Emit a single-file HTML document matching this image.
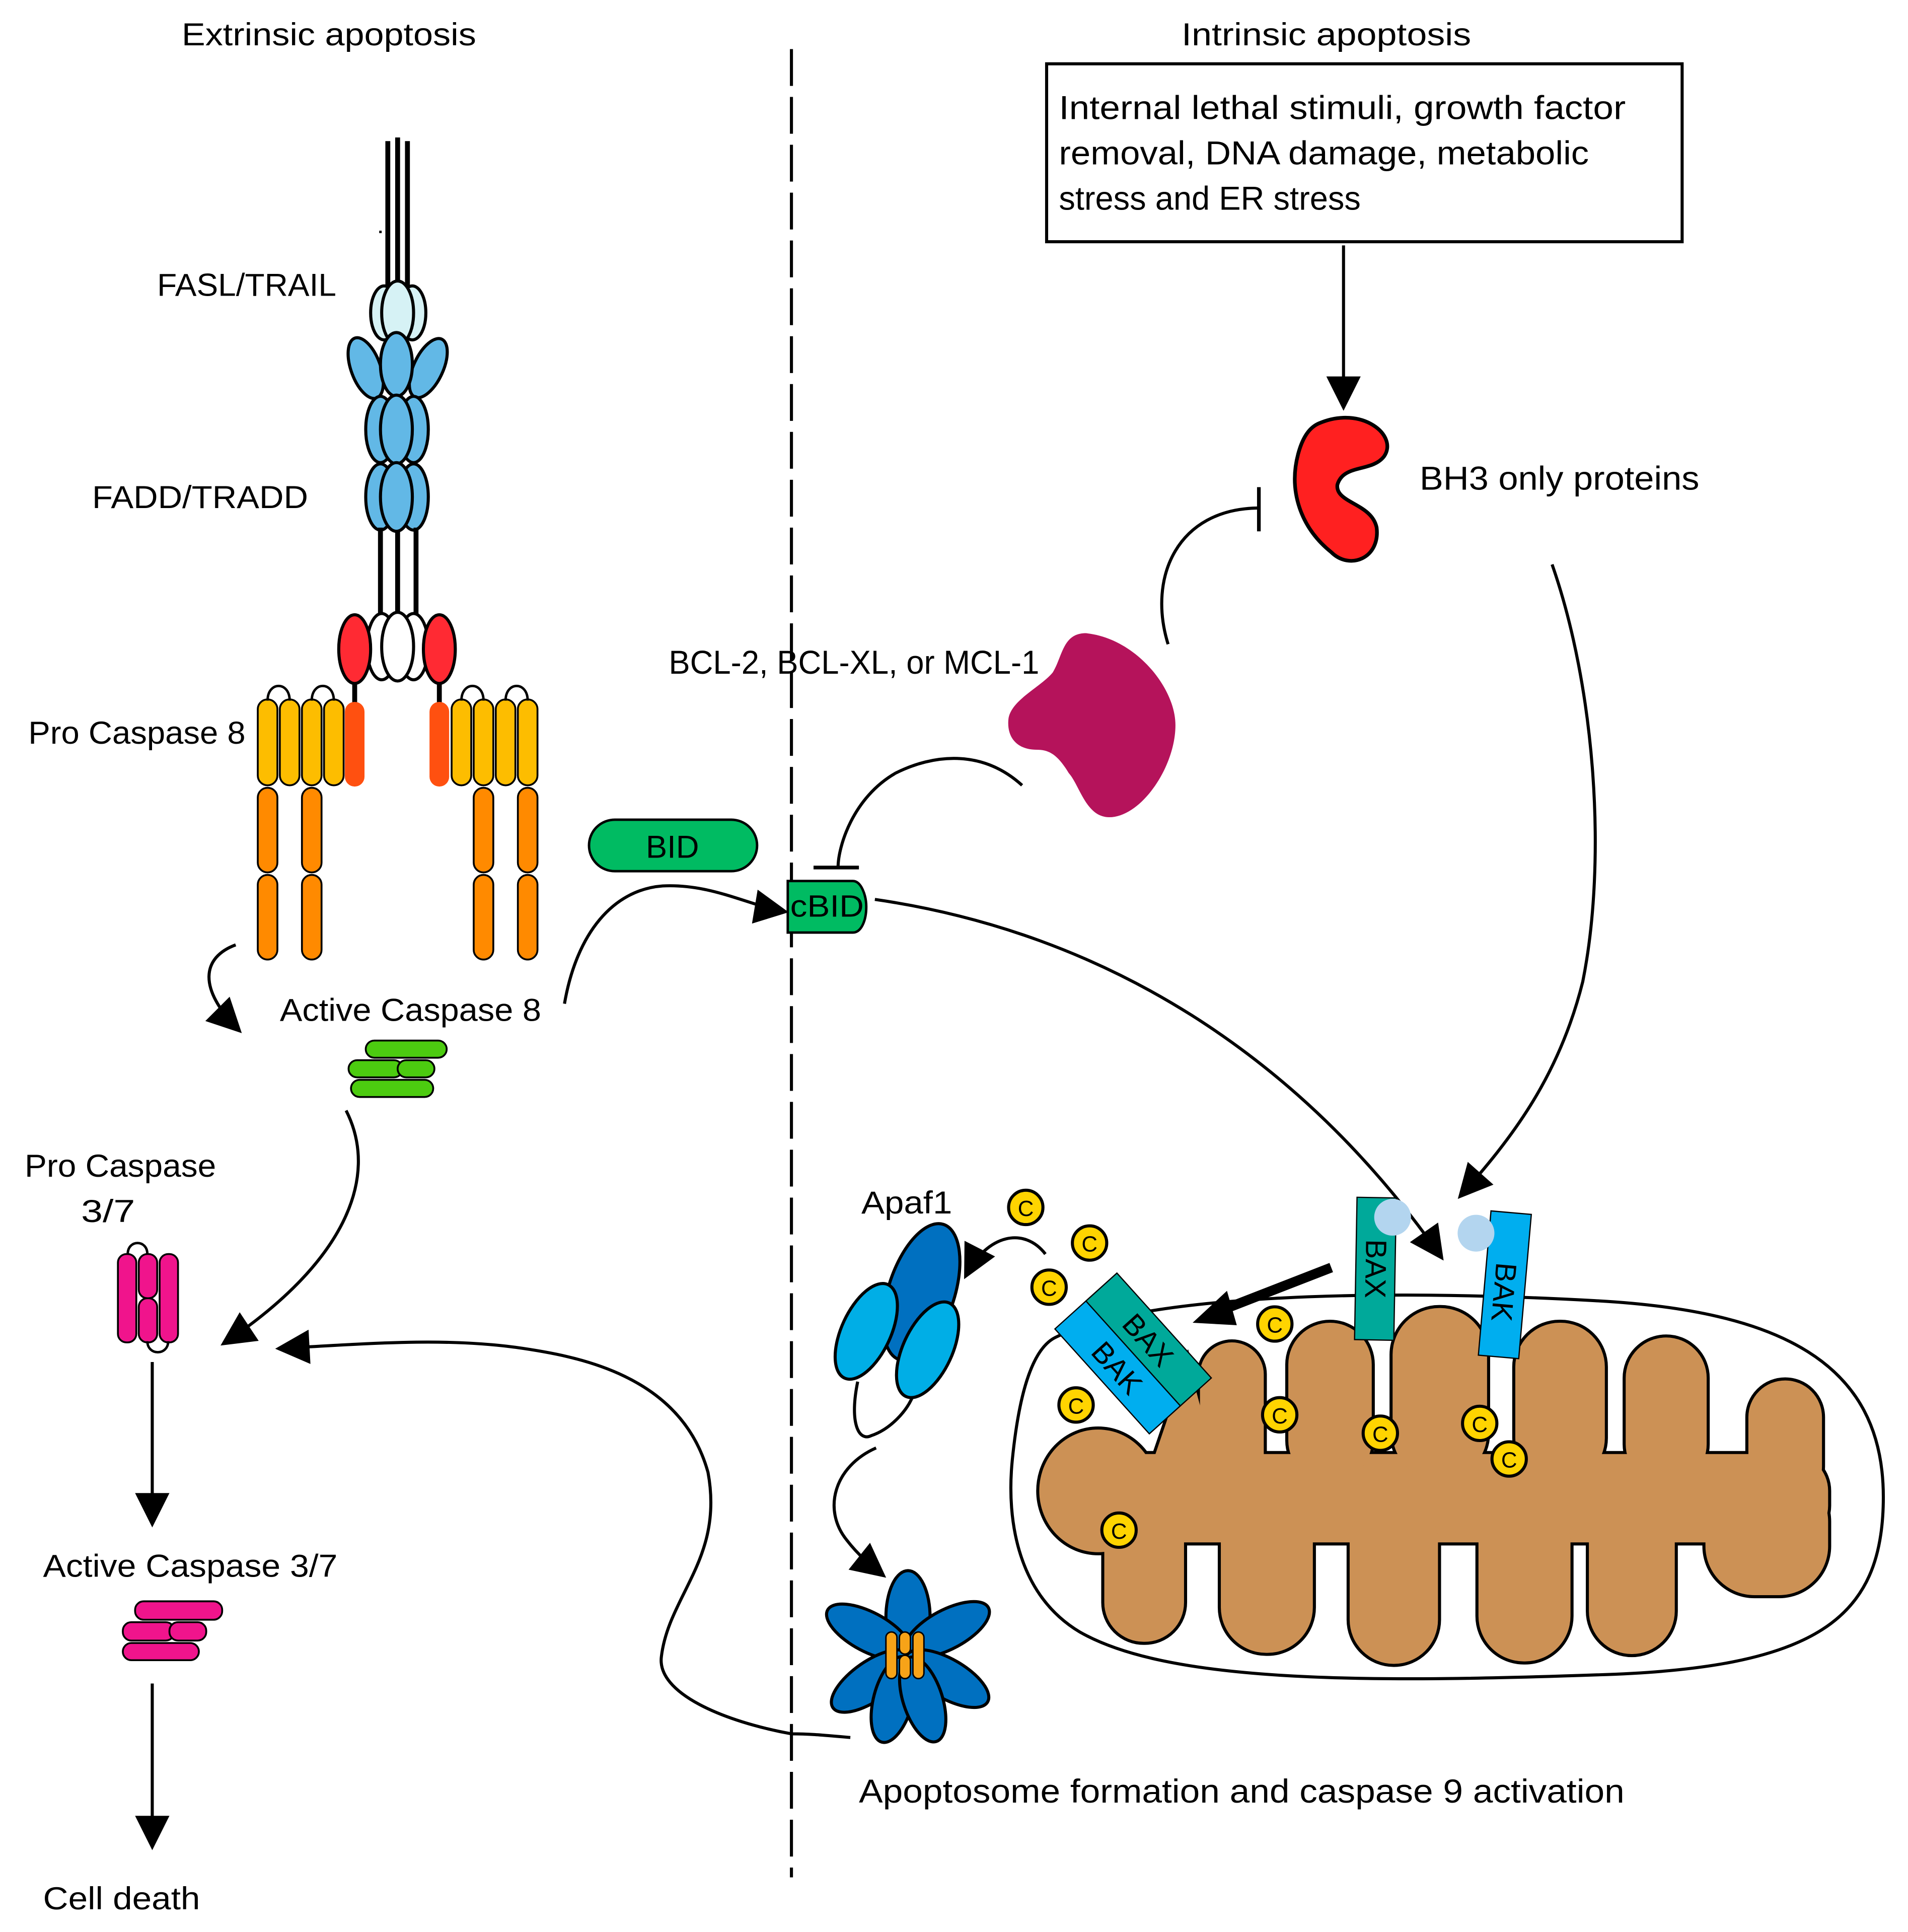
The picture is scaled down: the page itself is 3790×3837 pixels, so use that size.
<!DOCTYPE html>
<html><head><meta charset="utf-8"><style>html,body{margin:0;padding:0;background:#fff}svg{display:block}text{font-family:"Liberation Sans",sans-serif;fill:#000}</style></head><body>
<svg width="3790" height="3837" viewBox="0 0 1555 1574.5" xmlns="http://www.w3.org/2000/svg">
<defs>
<marker id="ah" viewBox="0 0 10 10" refX="9" refY="5" markerWidth="30" markerHeight="28" markerUnits="userSpaceOnUse" orient="auto"><path d="M0,0 L10,5 L0,10 z" fill="#000"/></marker>
</defs>
<rect width="1555" height="1575" fill="#fff"/>
<line x1="645" y1="40" x2="645" y2="1530" stroke="#000" stroke-width="2.5" stroke-dasharray="30,9"/>
<text x="148" y="37" font-size="26" textLength="240" lengthAdjust="spacingAndGlyphs">Extrinsic apoptosis</text>
<text x="963" y="37" font-size="26" textLength="236" lengthAdjust="spacingAndGlyphs">Intrinsic apoptosis</text>
<rect x="853" y="52" width="518" height="145" fill="#fff" stroke="#000" stroke-width="2.5"/>
<text x="863" y="97" font-size="27" textLength="462" lengthAdjust="spacingAndGlyphs">Internal lethal stimuli, growth factor</text>
<text x="863" y="134" font-size="27" textLength="432" lengthAdjust="spacingAndGlyphs">removal, DNA damage, metabolic</text>
<text x="863" y="171" font-size="27" textLength="246" lengthAdjust="spacingAndGlyphs">stress and ER stress</text>
<line x1="1095" y1="200" x2="1095" y2="332" stroke="#000" stroke-width="2.5" marker-end="url(#ah)"/>
<path d="M1075,345 C1110,330 1140,355 1128,372 C1118,385 1095,378 1090,395 C1088,410 1118,410 1122,430 C1125,455 1100,465 1085,450 C1060,430 1050,400 1058,370 C1062,355 1068,348 1075,345 Z" fill="#ff2020" stroke="#000" stroke-width="3"/>
<text x="1157" y="399" font-size="27" textLength="228" lengthAdjust="spacingAndGlyphs">BH3 only proteins</text>
<path d="M952,525 C935,470 960,415 1025,414" fill="none" stroke="#000" stroke-width="2.5"/>
<line x1="1026" y1="397" x2="1026" y2="433" stroke="#000" stroke-width="3"/>
<path d="M885,516 C925,520 958,560 958,591 C958,625 930,666 904,666 C885,666 880,640 871,630 C862,615 855,611 845,611 C828,611 820,600 822,585 C825,570 848,560 858,548 C866,535 866,516 885,516 Z" fill="#b5135b"/>
<text x="545" y="549" font-size="27" textLength="302" lengthAdjust="spacingAndGlyphs">BCL-2, BCL-XL, or MCL-1</text>
<path d="M833,640 C800,610 760,615 730,630 C695,650 683,690 683,707" fill="none" stroke="#000" stroke-width="2.5"/>
<line x1="663" y1="707" x2="700" y2="707" stroke="#000" stroke-width="3"/>
<rect x="480" y="668" width="137" height="42" rx="21" fill="#00bb62" stroke="#000" stroke-width="2"/>
<text x="548" y="699" font-size="26" text-anchor="middle">BID</text>
<path d="M642,718 L695,718 C702,718 706,730 706,739 C706,750 702,760 695,760 L642,760 Z" fill="#00bb62" stroke="#000" stroke-width="2"/>
<text x="674" y="747" font-size="25" text-anchor="middle" textLength="60" lengthAdjust="spacingAndGlyphs">cBID</text>
<path d="M460,818 C470,760 500,725 540,722 C580,720 610,738 640,743" fill="none" stroke="#000" stroke-width="2.5" marker-end="url(#ah)"/>
<path d="M713,733 C900,760 1060,860 1175,1025" fill="none" stroke="#000" stroke-width="2.5" marker-end="url(#ah)"/>
<path d="M1265,460 C1300,560 1310,700 1290,800 C1270,880 1230,930 1190,975" fill="none" stroke="#000" stroke-width="2.5" marker-end="url(#ah)"/>

<g stroke="#000">
<line x1="316" y1="115" x2="316" y2="240" stroke-width="4"/>
<line x1="324" y1="112" x2="324" y2="240" stroke-width="4"/>
<line x1="332" y1="115" x2="332" y2="240" stroke-width="4"/>
<rect x="309" y="188" width="2" height="2" fill="#000" stroke="none"/>
<g stroke-width="2.5" fill="#d6f2f5">
<ellipse cx="313" cy="255" rx="11" ry="22"/><ellipse cx="336" cy="255" rx="11" ry="22"/><ellipse cx="324" cy="255" rx="13" ry="26"/>
</g>
<g stroke-width="2.5" fill="#62b8e6">
<ellipse cx="298" cy="300" rx="12" ry="26" transform="rotate(-20 298 300)"/>
<ellipse cx="349" cy="300" rx="12" ry="26" transform="rotate(25 349 300)"/>
<ellipse cx="323" cy="297" rx="13" ry="26"/>
<ellipse cx="310" cy="350" rx="12" ry="27"/><ellipse cx="337" cy="350" rx="12" ry="27"/><ellipse cx="323" cy="350" rx="13" ry="28"/>
<ellipse cx="310" cy="405" rx="12" ry="27"/><ellipse cx="337" cy="405" rx="12" ry="27"/><ellipse cx="323" cy="405" rx="13" ry="28"/>
</g>
<line x1="310" y1="430" x2="310" y2="505" stroke-width="4"/>
<line x1="324" y1="432" x2="324" y2="505" stroke-width="4"/>
<line x1="339" y1="430" x2="339" y2="505" stroke-width="4"/>
<g stroke-width="2.5" fill="#fff">
<ellipse cx="311" cy="527" rx="12" ry="27"/><ellipse cx="337" cy="527" rx="12" ry="27"/><ellipse cx="324" cy="527" rx="13" ry="28"/>
</g>
<g stroke-width="2.5" fill="#ff2a33">
<ellipse cx="289" cy="529" rx="13" ry="28"/><ellipse cx="358" cy="529" rx="13" ry="28"/>
</g>
<line x1="289" y1="557" x2="289" y2="574" stroke-width="4"/>
<line x1="358" y1="557" x2="358" y2="574" stroke-width="4"/>
</g>
<g stroke="#000" stroke-width="1.5">
<rect x="281" y="572" width="16" height="69" rx="8" fill="#ff5010" stroke="none"/>
<rect x="350" y="572" width="16" height="69" rx="8" fill="#ff5010" stroke="none"/>
<g fill="#fdbd00">
<rect x="210" y="570" width="16" height="70" rx="8"/><rect x="228" y="570" width="16" height="70" rx="8"/><rect x="246" y="570" width="16" height="70" rx="8"/><rect x="264" y="570" width="16" height="70" rx="8"/>
<rect x="368" y="570" width="16" height="70" rx="8"/><rect x="386" y="570" width="16" height="70" rx="8"/><rect x="404" y="570" width="16" height="70" rx="8"/><rect x="422" y="570" width="16" height="70" rx="8"/>
</g>
<g fill="#ff8a00">
<rect x="210" y="642" width="16" height="69" rx="8"/><rect x="210" y="713" width="16" height="69" rx="8"/>
<rect x="246" y="642" width="16" height="69" rx="8"/><rect x="246" y="713" width="16" height="69" rx="8"/>
<rect x="386" y="642" width="16" height="69" rx="8"/><rect x="386" y="713" width="16" height="69" rx="8"/>
<rect x="422" y="642" width="16" height="69" rx="8"/><rect x="422" y="713" width="16" height="69" rx="8"/>
</g>
<g fill="none" stroke-width="2">
<path d="M218,571 C218,555 236,555 236,571"/><path d="M254,571 C254,555 272,555 272,571"/>
<path d="M376,571 C376,555 394,555 394,571"/><path d="M412,571 C412,555 430,555 430,571"/>
</g>
</g>
<text x="128" y="241" font-size="26" textLength="146" lengthAdjust="spacingAndGlyphs">FASL/TRAIL</text>
<text x="75" y="414" font-size="26" textLength="176" lengthAdjust="spacingAndGlyphs">FADD/TRADD</text>
<text x="23" y="606" font-size="26" textLength="177" lengthAdjust="spacingAndGlyphs">Pro Caspase 8</text>
<path d="M192,770 C165,780 160,805 195,840" fill="none" stroke="#000" stroke-width="2.5" marker-end="url(#ah)"/>
<text x="228" y="832" font-size="26" textLength="213" lengthAdjust="spacingAndGlyphs">Active Caspase 8</text>
<g fill="#4ccb10" stroke="#000" stroke-width="1.5">
<rect x="298" y="848" width="66" height="14" rx="7"/>
<rect x="284" y="864" width="44" height="14" rx="7"/><rect x="324" y="864" width="30" height="14" rx="7"/>
<rect x="286" y="880" width="67" height="14" rx="7"/>
</g>
<path d="M282,905 C310,960 280,1030 182,1095" fill="none" stroke="#000" stroke-width="2.5" marker-end="url(#ah)"/>
<text x="20" y="959" font-size="26" textLength="156" lengthAdjust="spacingAndGlyphs">Pro Caspase</text>
<text x="66" y="996" font-size="26" textLength="44" lengthAdjust="spacingAndGlyphs">3/7</text>
<g fill="#f0148c" stroke="#000" stroke-width="1.5">
<rect x="96" y="1022" width="15" height="72" rx="7"/>
<rect x="113" y="1022" width="15" height="36" rx="7"/><rect x="113" y="1058" width="15" height="36" rx="7"/>
<rect x="130" y="1022" width="15" height="72" rx="7"/>
</g>
<path d="M104,1022 C104,1010 120,1010 120,1022 M120,1093 C120,1105 137,1105 137,1093" fill="none" stroke="#000" stroke-width="2"/>
<line x1="124" y1="1110" x2="124" y2="1242" stroke="#000" stroke-width="2.5" marker-end="url(#ah)"/>
<text x="35" y="1285" font-size="26" textLength="240" lengthAdjust="spacingAndGlyphs">Active Caspase 3/7</text>
<g fill="#f0148c" stroke="#000" stroke-width="1.5">
<rect x="110" y="1305" width="71" height="15" rx="7"/>
<rect x="100" y="1322" width="42" height="15" rx="7"/><rect x="138" y="1322" width="30" height="15" rx="7"/>
<rect x="100" y="1339" width="62" height="14" rx="7"/>
</g>
<line x1="124" y1="1372" x2="124" y2="1505" stroke="#000" stroke-width="2.5" marker-end="url(#ah)"/>
<text x="35" y="1556" font-size="26" textLength="128" lengthAdjust="spacingAndGlyphs">Cell death</text>
<path d="M693,1416 C670,1414 660,1413 645,1413 C590,1403 535,1380 539,1350 C545,1300 590,1270 577,1200 C555,1120 470,1105 420,1098 C360,1090 300,1095 227,1099" fill="none" stroke="#000" stroke-width="2.5" marker-end="url(#ah)"/>

<path d="M860,1090 C930,1055 1120,1050 1300,1060 C1450,1068 1535,1110 1535,1220 C1535,1320 1480,1360 1300,1365 C1100,1372 950,1370 880,1330 C830,1300 820,1240 825,1190 C830,1140 840,1100 860,1090 Z" fill="#fff" stroke="#000" stroke-width="2.5"/>
<g stroke="#000" stroke-width="5" fill="#000">
<rect x="880" y="1185" width="610" height="72" rx="30"/>
<ellipse cx="895" cy="1215" rx="48" ry="50"/>
<path d="M940,1190 L968,1108 L990,1190 Z"/>
<rect x="978" y="1094" width="52" height="120" rx="26"/>
<rect x="1050" y="1078" width="68" height="130" rx="34"/>
<rect x="1135" y="1066" width="77" height="140" rx="38"/>
<rect x="1235" y="1078" width="73" height="130" rx="36"/>
<rect x="1325" y="1090" width="66" height="120" rx="33"/>
<rect x="1425" y="1125" width="60" height="100" rx="30"/>
<rect x="900" y="1220" width="65" height="118" rx="32"/>
<rect x="995" y="1220" width="75" height="127" rx="37"/>
<rect x="1100" y="1220" width="72" height="136" rx="36"/>
<rect x="1205" y="1220" width="75" height="134" rx="37"/>
<rect x="1295" y="1220" width="70" height="128" rx="35"/>
<rect x="1390" y="1200" width="100" height="100" rx="40"/>
</g>
<g fill="#cc9155">
<rect x="880" y="1185" width="610" height="72" rx="30"/>
<ellipse cx="895" cy="1215" rx="48" ry="50"/>
<path d="M940,1190 L968,1108 L990,1190 Z"/>
<rect x="978" y="1094" width="52" height="120" rx="26"/>
<rect x="1050" y="1078" width="68" height="130" rx="34"/>
<rect x="1135" y="1066" width="77" height="140" rx="38"/>
<rect x="1235" y="1078" width="73" height="130" rx="36"/>
<rect x="1325" y="1090" width="66" height="120" rx="33"/>
<rect x="1425" y="1125" width="60" height="100" rx="30"/>
<rect x="900" y="1220" width="65" height="118" rx="32"/>
<rect x="995" y="1220" width="75" height="127" rx="37"/>
<rect x="1100" y="1220" width="72" height="136" rx="36"/>
<rect x="1205" y="1220" width="75" height="134" rx="37"/>
<rect x="1295" y="1220" width="70" height="128" rx="35"/>
<rect x="1390" y="1200" width="100" height="100" rx="40"/>
</g>
<g transform="translate(923.5 1103) rotate(48)">
<rect x="-57.5" y="-34" width="115" height="34" fill="#00a99a" stroke="#000" stroke-width="1"/>
<rect x="-57.5" y="0" width="115" height="34" fill="#00aeef" stroke="#000" stroke-width="1"/>
<text x="0" y="-8" font-size="24" text-anchor="middle">BAX</text>
<text x="0" y="26" font-size="24" text-anchor="middle">BAK</text>
</g>
<g transform="translate(1121 1034) rotate(1)">
<rect x="-16" y="-58" width="32" height="116" fill="#00a99a" stroke="#000" stroke-width="1"/>
<text transform="rotate(90)" x="0" y="8" font-size="24" text-anchor="middle">BAX</text>
</g>
<g transform="translate(1226 1047) rotate(5)">
<rect x="-16" y="-59" width="33" height="118" fill="#00aeef" stroke="#000" stroke-width="1"/>
<text transform="rotate(90)" x="6" y="8" font-size="24" text-anchor="middle">BAK</text>
</g>
<circle cx="1135" cy="992" r="15" fill="#b3d5ef"/>
<circle cx="1203" cy="1005" r="15" fill="#b3d5ef"/>
<line x1="1085" y1="1033" x2="995" y2="1068" stroke="#000" stroke-width="8"/>
<path d="M972,1078 L1000,1052 L1008,1080 Z" fill="#000"/>
<g font-size="18" text-anchor="middle">
<g fill="#ffd400" stroke="#000" stroke-width="2.5">
<circle cx="836" cy="984" r="14"/><circle cx="888" cy="1013" r="14"/><circle cx="855" cy="1049" r="14"/>
<circle cx="1039" cy="1079" r="14"/><circle cx="877" cy="1145" r="14"/><circle cx="1043" cy="1153" r="14"/>
<circle cx="1125" cy="1168" r="14"/><circle cx="1206" cy="1160" r="14"/><circle cx="1230" cy="1189" r="14"/>
<circle cx="912" cy="1247" r="14"/>
</g>
<text x="836" y="991">C</text><text x="888" y="1020">C</text><text x="855" y="1056">C</text>
<text x="1039" y="1086">C</text><text x="877" y="1152">C</text><text x="1043" y="1160">C</text>
<text x="1125" y="1175">C</text><text x="1206" y="1167">C</text><text x="1230" y="1196">C</text>
<text x="912" y="1254">C</text>
</g>
<path d="M852,1022 C835,1000 805,1005 787,1040" fill="none" stroke="#000" stroke-width="2.5" marker-end="url(#ah)"/>
<text x="702" y="989" font-size="26" textLength="74" lengthAdjust="spacingAndGlyphs">Apaf1</text>
<path d="M699,1126 C692,1160 700,1175 710,1170 C725,1165 740,1150 745,1135" fill="none" stroke="#000" stroke-width="2.5"/>
<ellipse cx="751" cy="1053" rx="27" ry="58" transform="rotate(18 751 1053)" fill="#0070c0" stroke="#000" stroke-width="2.5"/>
<ellipse cx="706" cy="1085" rx="20" ry="42" transform="rotate(25 706 1085)" fill="#00aee6" stroke="#000" stroke-width="2.5"/>
<ellipse cx="756" cy="1100" rx="20" ry="42" transform="rotate(25 756 1100)" fill="#00aee6" stroke="#000" stroke-width="2.5"/>
<path d="M714,1180 C680,1195 670,1230 690,1255 C700,1268 710,1276 720,1284" fill="none" stroke="#000" stroke-width="2.5" marker-end="url(#ah)"/>
<g fill="#0070c0" stroke="#000" stroke-width="2.5">
<ellipse cx="740" cy="1318" rx="18" ry="38"/>
<ellipse cx="708" cy="1330" rx="16" ry="38" transform="rotate(-62 708 1330)"/>
<ellipse cx="772" cy="1328" rx="16" ry="38" transform="rotate(62 772 1328)"/>
<ellipse cx="710" cy="1370" rx="16" ry="38" transform="rotate(-125 710 1370)"/>
<ellipse cx="772" cy="1368" rx="16" ry="38" transform="rotate(120 772 1368)"/>
<ellipse cx="728" cy="1385" rx="16" ry="36" transform="rotate(-165 728 1385)"/>
<ellipse cx="752" cy="1385" rx="16" ry="36" transform="rotate(162 752 1385)"/>
</g>
<g fill="#f7a318" stroke="#000" stroke-width="1.2">
<rect x="722" y="1330" width="9" height="38" rx="4.5"/>
<rect x="733" y="1330" width="9" height="18" rx="4.5"/><rect x="733" y="1349" width="9" height="19" rx="4.5"/>
<rect x="744" y="1330" width="9" height="38" rx="4.5"/>
</g>
<text x="700" y="1469" font-size="27" textLength="624" lengthAdjust="spacingAndGlyphs">Apoptosome formation and caspase 9 activation</text>
</svg>
</body></html>
